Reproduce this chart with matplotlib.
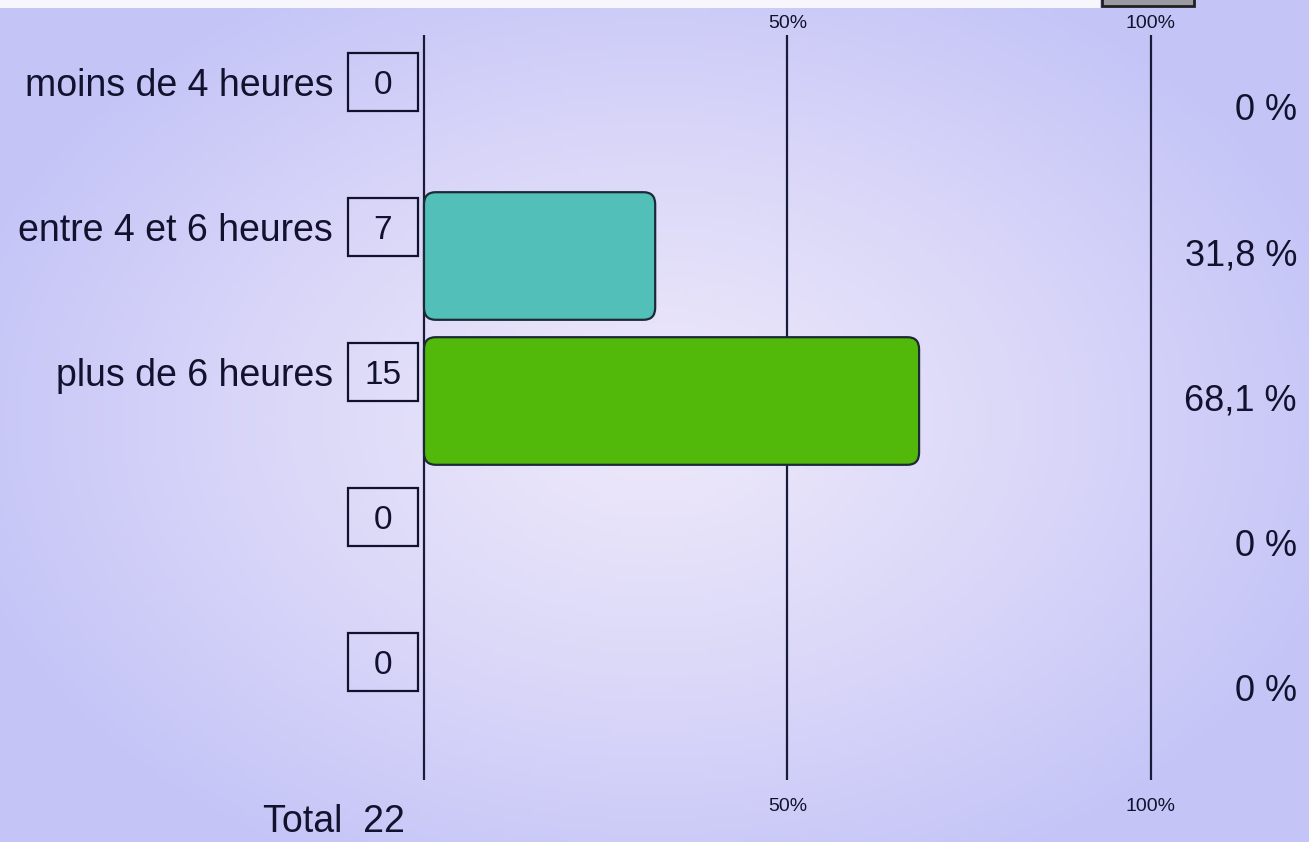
import matplotlib.pyplot as plt
import numpy as np
from matplotlib.patches import FancyBboxPatch, Rectangle

# data
categories = ["moins de 4 heures", "entre 4 et 6 heures", "plus de 6 heures", "", ""]
counts = [0, 7, 15, 0, 0]
percents = [0, 31.8, 68.1, 0, 0]
pct_labels = ["0 %", "31,8 %", "68,1 %", "0 %", "0 %"]
bar_colors = ["#52bfb8", "#52bfb8", "#52b80a", "#52bfb8", "#52bfb8"]
total = 22

W, H = 1309, 842
fig = plt.figure(figsize=(W / 100, H / 100), dpi=100)
ax = fig.add_axes([0, 0, 1, 1])

# map pixels -> data: x 0% at px 424, 100% at px 1151; rows every 145 px starting at 111
px_per_x = (1151 - 424) / 100
x0 = -424 / px_per_x
x1 = (W - 424) / px_per_x
y0 = (0 - 111) / 145
y1 = (H - 111) / 145
ax.set_xlim(x0, x1)
ax.set_ylim(y1, y0)
ax.axis("off")

# radial lavender background
gx, gy = np.meshgrid(np.linspace(0, 1, 300), np.linspace(0, 1, 200))
d = np.sqrt(((gx - 0.50) / 0.55) ** 2 + ((gy - 0.50) / 0.60) ** 2)
d = np.clip(d, 0, 1)
c_in = np.array([0.93, 0.91, 0.98])
c_out = np.array([0.77, 0.77, 0.97])
img = c_in + (c_out - c_in) * d[..., None] ** 1.2
ax.imshow(img, extent=(x0, x1, y1, y0), aspect="auto", zorder=0)

line_top = (35 - 111) / 145
line_bot = (780 - 111) / 145
ax.vlines([0, 50, 100], line_top, line_bot, color="#1a1a3a", linewidth=1.6, zorder=3)

font = ["Liberation Sans", "DejaVu Sans"]
ink = "#12122e"

for xv in [50, 100]:
    ax.text(xv, (24 - 111) / 145, f"{xv}%", ha="center", va="center",
            fontsize=14, family=font, color=ink)
    ax.text(xv, (806 - 111) / 145, f"{xv}%", ha="center", va="center",
            fontsize=14, family=font, color=ink)

bar_h = 0.88
for i, (cat, n, p, lab, col) in enumerate(zip(categories, counts, percents, pct_labels, bar_colors)):
    if p > 0:
        bar = FancyBboxPatch((0, i - bar_h / 2), p, bar_h,
                             boxstyle="round,pad=0,rounding_size=1.6",
                             mutation_aspect=0.052,
                             facecolor=col, edgecolor="#1c2a38", linewidth=1.6, zorder=4)
        ax.add_patch(bar)
    yb = i - 0.2
    ax.add_patch(Rectangle((-10.45, yb - 0.2), 9.63, 0.4, fill=False,
                           edgecolor=ink, linewidth=1.6, zorder=4))
    ax.text(-5.64, yb, str(n), ha="center", va="center_baseline", fontsize=24,
            family=font, color=ink, zorder=5)
    if cat:
        ax.text(-12.5, yb, cat, ha="right", va="center_baseline", fontsize=27,
                family=font, color=ink, zorder=5)
    ax.text((1297 - 424) / px_per_x, i, lab, ha="right", va="center",
            fontsize=26, family=font, color=ink, zorder=5)

ax.text((405 - 424) / px_per_x, (822 - 111) / 145, f"Total  {total}", ha="right",
        va="center", fontsize=27, family=font, color=ink)

# white strip at the very top with the small dark box
fig.patches.append(Rectangle((0, 1 - 8 / H), 1100 / W, 8 / H, transform=fig.transFigure,
                             facecolor="#f6f6fc", edgecolor="none"))
fig.patches.append(Rectangle((1102 / W, 1 - 6 / H), 92 / W, 8 / H, transform=fig.transFigure,
                             facecolor="#9a9aa0", edgecolor="#202020", linewidth=2))

fig.savefig("out.png", dpi=100)
